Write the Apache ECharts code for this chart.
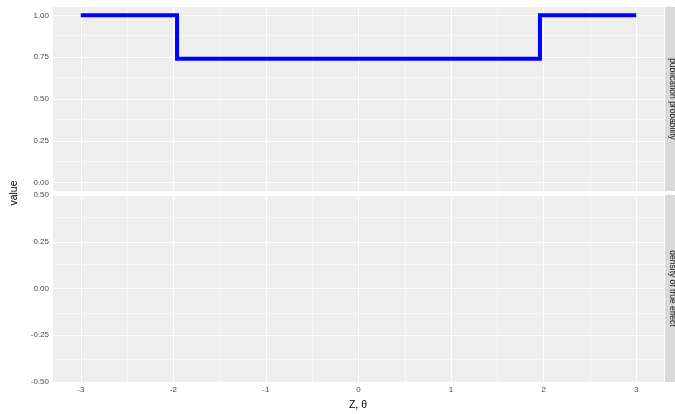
<!DOCTYPE html>
<html>
<head>
<meta charset="utf-8">
<script src="https://cdn.jsdelivr.net/npm/echarts@6/dist/echarts.min.js"></script>
<style>
html,body{margin:0;padding:0;background:#fff;}
#chart{width:675px;height:414px;}
</style>
</head>
<body>
<div id="chart"></div>
<script>
// Data
var zValues = [-3, -1.96, -1.96, 1.96, 1.96, 3];
var pubProb = [1, 1, 0.74, 0.74, 1, 1];
var densityValues = [];
var xTicks = [-3, -2, -1, 0, 1, 2, 3];
var xMinor = [-2.5, -1.5, -0.5, 0.5, 1.5, 2.5];
var topYTicks = [0, 0.25, 0.5, 0.75, 1];
var topYMinor = [0.125, 0.375, 0.625, 0.875];
var botYTicks = [-0.5, -0.25, 0, 0.25, 0.5];
var botYMinor = [-0.375, -0.125, 0.125, 0.375];
var facetLabels = ['publication probability', 'density of true effect'];
var xTitle = 'Z, \u03b8';
var yTitle = 'value';

var FONT = '"Liberation Sans", Arial, sans-serif';
var PANEL_BG = '#EEEEEE';
var STRIP_BG = '#D9D9D9';

var grids = [
  {left: 53, top: 7, width: 611, height: 184},
  {left: 53, top: 195, width: 611, height: 187}
];

function gridMarks(xs, ys, w) {
  var d = [];
  xs.forEach(function(v){ d.push({xAxis: v, lineStyle: {color: '#fff', width: w, type: 'solid'}}); });
  ys.forEach(function(v){ d.push({yAxis: v, lineStyle: {color: '#fff', width: w, type: 'solid'}}); });
  return d;
}

function pair(xs, ys) { return xs.map(function(x, i){ return [x, ys[i]]; }); }

var chart = echarts.init(document.getElementById('chart'), null, {renderer: 'canvas'});

var labelStyle = {color: '#4D4D4D', fontSize: 8, fontFamily: FONT};

var option = {
  animation: false,
  grid: grids.map(function(g){ return Object.assign({show: true, backgroundColor: PANEL_BG, borderWidth: 0, containLabel: false}, g); }),
  xAxis: [
    {gridIndex: 0, type: 'value', min: -3.3, max: 3.3,
     axisLine: {show: false}, axisTick: {show: false}, axisLabel: {show: false}, splitLine: {show: false}},
    {gridIndex: 1, type: 'value', min: -3.3, max: 3.3,
     axisLine: {show: false},
     axisTick: {show: true, length: 3, customValues: xTicks, lineStyle: {color: '#333333', width: 1}},
     axisLabel: Object.assign({show: true, margin: 4, customValues: xTicks, formatter: function(v){ return String(v); }}, labelStyle),
     splitLine: {show: false}}
  ],
  yAxis: [
    {gridIndex: 0, type: 'value', min: -0.05, max: 1.05,
     axisLine: {show: false},
     axisTick: {show: true, length: 3, customValues: topYTicks, lineStyle: {color: '#333333', width: 1}},
     axisLabel: Object.assign({show: true, margin: 4, customValues: topYTicks, formatter: function(v){ return v.toFixed(2); }}, labelStyle),
     splitLine: {show: false}},
    {gridIndex: 1, type: 'value', min: -0.5, max: 0.5,
     axisLine: {show: false},
     axisTick: {show: true, length: 3, customValues: botYTicks, lineStyle: {color: '#333333', width: 1}},
     axisLabel: Object.assign({show: true, margin: 4, customValues: botYTicks, formatter: function(v){ return v.toFixed(2); }}, labelStyle),
     splitLine: {show: false}}
  ],
  series: [
    {type: 'line', xAxisIndex: 0, yAxisIndex: 0, data: [], z: 1, silent: true,
     markLine: {silent: true, symbol: ['none','none'], label: {show: false}, animation: false,
       data: gridMarks(xMinor, topYMinor, 0.5).concat(gridMarks(xTicks, topYTicks, 1.1))}},
    {type: 'line', xAxisIndex: 1, yAxisIndex: 1, data: densityValues, z: 1, silent: true,
     markLine: {silent: true, symbol: ['none','none'], label: {show: false}, animation: false,
       data: gridMarks(xMinor, botYMinor, 0.5).concat(gridMarks(xTicks, botYTicks, 1.1))}},
    {type: 'line', name: facetLabels[0], xAxisIndex: 0, yAxisIndex: 0, z: 5,
     data: pair(zValues, pubProb), showSymbol: false, symbol: 'none',
     lineStyle: {color: '#0000FF', width: 4, cap: 'butt', join: 'miter'}}
  ],
  graphic: [
    {type: 'rect', shape: {x: 665, y: grids[0].top, width: 20, height: grids[0].height}, style: {fill: STRIP_BG}, z: 10},
    {type: 'rect', shape: {x: 665, y: grids[1].top, width: 20, height: grids[1].height}, style: {fill: STRIP_BG}, z: 10},
    {type: 'text', x: 672, y: grids[0].top + grids[0].height / 2, rotation: -Math.PI / 2, z: 11,
     style: {text: facetLabels[0], fill: '#1A1A1A', font: '8.5px ' + FONT, textAlign: 'center', textVerticalAlign: 'middle'}},
    {type: 'text', x: 672, y: grids[1].top + grids[1].height / 2, rotation: -Math.PI / 2, z: 11,
     style: {text: facetLabels[1], fill: '#1A1A1A', font: '8.5px ' + FONT, textAlign: 'center', textVerticalAlign: 'middle'}},
    {type: 'text', x: 358, y: 405, z: 11,
     style: {text: xTitle, fill: '#000000', font: '10.5px ' + FONT, textAlign: 'center', textVerticalAlign: 'middle'}},
    {type: 'text', x: 14, y: 193, rotation: Math.PI / 2, z: 11,
     style: {text: yTitle, fill: '#000000', font: '10.5px ' + FONT, textAlign: 'center', textVerticalAlign: 'middle'}}
  ]
};
chart.setOption(option);
</script>
</body>
</html>
